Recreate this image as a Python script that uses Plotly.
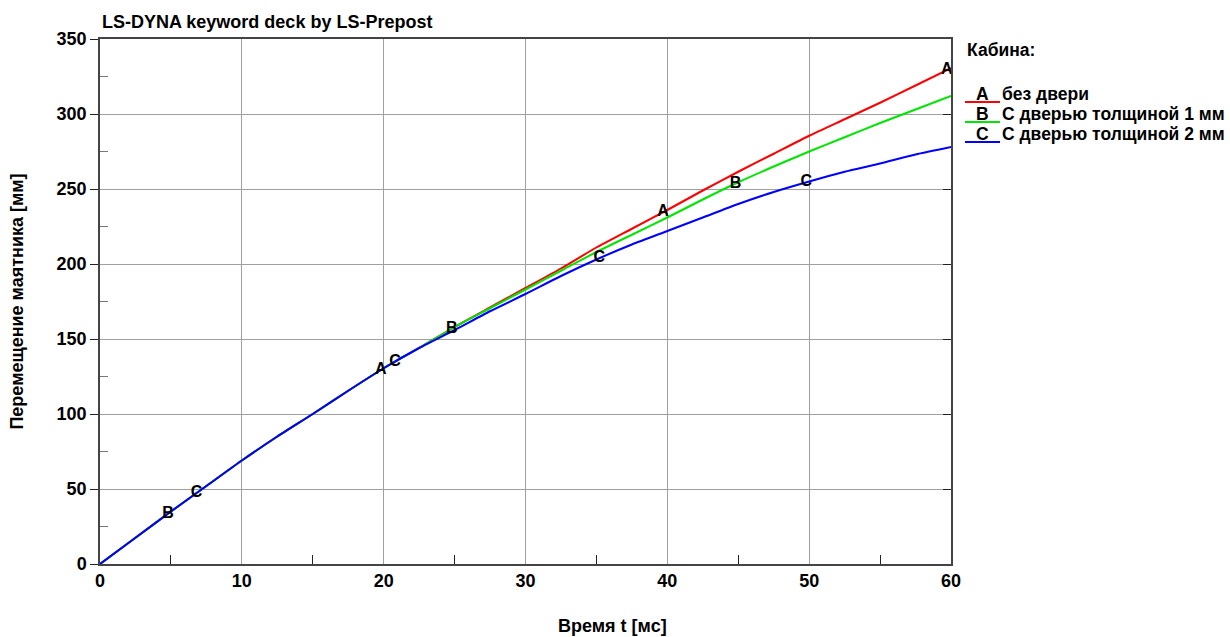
import numpy as np
import plotly.graph_objects as go

# ---- data ----
time_ms = [0, 2.5, 5, 7.5, 10, 12.5, 15, 17.5, 20, 22.5, 25, 27.5, 30, 32.5, 35,
           37.5, 40, 42.5, 45, 47.5, 50, 52.5, 55, 57.5, 60]
early = [0, 17.5, 35, 52, 69, 85, 100, 115.5, 130.5, 144]
disp_a = early + [158, 171, 184, 197, 211, 223.5, 236, 249, 261.5, 273.5, 285.5, 296.5, 307.5, 319, 330.5]
disp_b = early + [158, 170.5, 183, 195.5, 208, 219.5, 231, 243, 254.5, 265, 275, 284.5, 294, 303, 312]
disp_c = early + [156, 168.5, 180, 192, 203, 213, 222, 231, 240, 248, 255, 261.5, 267, 273, 278]

series_names = ["без двери", "С дверью толщиной 1 мм", "С дверью толщиной 2 мм"]
series_letters = ["A", "B", "C"]
series_colors = ["#ff0000", "#00e600", "#0000ff"]
label_x_a = [19.8, 39.7, 59.7]
label_x_b = [4.8, 24.8, 44.8]
label_x_c = [6.8, 20.8, 35.2, 49.8]

x_ticks = [0, 10, 20, 30, 40, 50, 60]
y_ticks = [0, 50, 100, 150, 200, 250, 300, 350]

title_text = "LS-DYNA keyword deck by LS-Prepost"
x_title = "Время t [мс]"
y_title = "Перемещение маятника [мм]"
legend_title = "Кабина:"

FONT = "Liberation Sans, Arial, sans-serif"
FS = 18

fig = go.Figure()
all_disp = [disp_a, disp_b, disp_c]
all_lx = [label_x_a, label_x_b, label_x_c]

for i in [0, 1, 2]:
    fig.add_trace(go.Scatter(x=time_ms, y=all_disp[i], mode="lines",
                             line=dict(color=series_colors[i], width=2, shape="spline", smoothing=0.6),
                             showlegend=False, hoverinfo="skip"))
for i in range(3):
    lx = all_lx[i]
    ly = list(np.interp(lx, time_ms, all_disp[i]))
    fig.add_trace(go.Scatter(x=lx, y=ly, mode="text", text=[series_letters[i]] * len(lx),
                             textposition="middle center",
                             textfont=dict(family=FONT, size=16, color="black", weight="bold"),
                             showlegend=False, hoverinfo="skip"))

axis_common = dict(showline=True, linecolor="#444", linewidth=1.5, zeroline=False,
                   gridcolor="#a0a0a0", gridwidth=1.3, automargin=False,
                   tickfont=dict(family=FONT, size=FS, color="black", weight="bold"))

fig.update_layout(
    width=1230, height=637,
    margin=dict(l=100, r=279, t=39, b=73),
    plot_bgcolor="white", paper_bgcolor="white",
    xaxis=dict(range=[0, 60], tickvals=x_ticks, ticks="", mirror=True,
               minor=dict(tickvals=[5, 15, 25, 35, 45, 55], ticks="inside", ticklen=9,
                          tickcolor="#222", tickwidth=1.3, showgrid=False),
               **axis_common),
    yaxis=dict(range=[0, 350], tickvals=y_ticks, ticks="outside", ticklen=8, tickcolor="#222",
               tickwidth=1.3, mirror=True,
               minor=dict(tickvals=[25, 75, 125, 175, 225, 275, 325], ticks="inside", ticklen=8,
                          tickcolor="#777", tickwidth=1.3, showgrid=False),
               title=dict(text=y_title, font=dict(family=FONT, size=FS, color="black", weight="bold"),
                          standoff=28),
               **axis_common),
    yaxis2=dict(range=[0, 350], overlaying="y", side="right", tickvals=y_ticks, ticks="inside",
                ticklen=8, tickcolor="#222", tickwidth=1.3, showticklabels=False,
                showgrid=False, zeroline=False, showline=False, automargin=False),
    font=dict(family=FONT, color="black"),
)

fig.add_trace(go.Scatter(x=[None], y=[None], yaxis="y2", showlegend=False, hoverinfo="skip"))

def px_to_paper_x(px):
    return (px - 100) / (951 - 100)
def py_to_paper_y(py):
    return (564 - py) / (564 - 39)

# title
fig.add_annotation(text=title_text, xref="paper", yref="paper", x=0, y=1, xanchor="left",
                   yanchor="bottom", yshift=5, showarrow=False,
                   font=dict(family=FONT, size=FS, color="black", weight="bold"))
# x axis title (offset right of centre as in reference)
fig.add_annotation(text=x_title, xref="paper", yref="paper", x=px_to_paper_x(612),
                   y=py_to_paper_y(626), xanchor="center", yanchor="middle", showarrow=False,
                   font=dict(family=FONT, size=FS, color="black", weight="bold"))

# custom legend
lx0, lx1 = 965, 1000
LFS = 17.5
fig.add_annotation(text=legend_title, xref="paper", yref="paper", x=px_to_paper_x(965),
                   y=py_to_paper_y(50), xanchor="left", yanchor="middle", showarrow=False,
                   font=dict(family=FONT, size=LFS, color="black", weight="bold"))
for i in range(3):
    cy = 94 + 20 * i
    fig.add_shape(type="line", xref="paper", yref="paper",
                  x0=px_to_paper_x(lx0), x1=px_to_paper_x(lx1),
                  y0=py_to_paper_y(cy + 8), y1=py_to_paper_y(cy + 8),
                  line=dict(color=series_colors[i], width=2))
    fig.add_annotation(text=series_letters[i], xref="paper", yref="paper",
                       x=px_to_paper_x((lx0 + lx1) / 2), y=py_to_paper_y(cy), xanchor="center",
                       yanchor="middle", showarrow=False,
                       font=dict(family=FONT, size=LFS, color="black", weight="bold"))
    fig.add_annotation(text=series_names[i], xref="paper", yref="paper",
                       x=px_to_paper_x(1000), y=py_to_paper_y(cy), xanchor="left",
                       yanchor="middle", showarrow=False,
                       font=dict(family=FONT, size=LFS, color="black", weight="bold"))

# remove the default page margin so the figure fills the window exactly
fig.write_html("out.html", config={"displayModeBar": False},
               post_script="document.body.style.margin='0';")
